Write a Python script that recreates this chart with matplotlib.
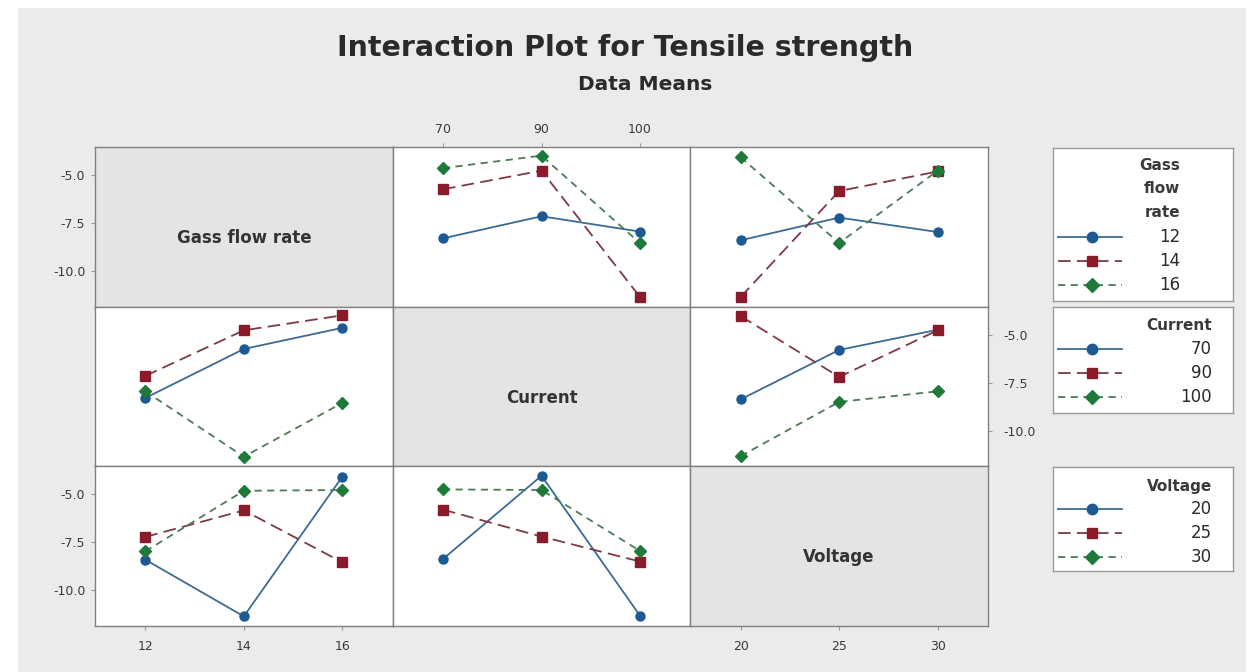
import matplotlib
matplotlib.use("Agg")
import matplotlib.pyplot as plt
from matplotlib.patches import Rectangle
import numpy as np

plt.rcParams['font.family'] = ['DejaVu Sans']

# ---------------- data ----------------
factor_names = ["Gass flow rate", "Current", "Voltage"]
legend_titles = ["Gass\nflow\nrate", "Current", "Voltage"]
gas_levels = ["12", "14", "16"]
current_levels = ["70", "90", "100"]
voltage_levels = ["20", "25", "30"]

# rows: gas flow rate level, cols: current level
gas_by_current = [[-8.30, -7.15, -7.95],
                  [-5.75, -4.78, -11.35],
                  [-4.65, -4.00, -8.55]]
# rows: gas flow rate level, cols: voltage level
gas_by_voltage = [[-8.40, -7.22, -7.97],
                  [-11.35, -5.84, -4.82],
                  [-4.08, -8.54, -4.78]]
# rows: current level, cols: voltage level
current_by_voltage = [[-8.37, -5.80, -4.75],
                      [-4.04, -7.20, -4.78],
                      [-11.32, -8.50, -7.95]]

y_ticks = [-5.0, -7.5, -10.0]
y_ticklabels = ["-5.0", "-7.5", "-10.0"]

# ---------------- style ----------------
W, H = 1250, 672
BG = "#ebebeb"
DIAG = "#e4e4e4"
SPINE = "#808080"
TXT = "#333333"
marker_colors = ["#1d5a94", "#8b1a2b", "#1f7a3a"]
line_colors = ["#3d6a93", "#7d3a42", "#4d7a58"]
markers = ["o", "s", "D"]
msizes = [6.5, 6.5, 6.0]
dashes = [None, (7, 3.5), (4, 3)]

levels = [gas_levels, current_levels, voltage_levels]
M = {(0, 1): np.array(gas_by_current),
     (0, 2): np.array(gas_by_voltage),
     (1, 2): np.array(current_by_voltage)}


def cell_data(r, c):
    if (r, c) in M:
        return M[(r, c)]
    return M[(c, r)].T


fig = plt.figure(figsize=(W / 100, H / 100), dpi=100)
fig.patch.set_facecolor("white")
fig.patches.append(Rectangle((18 / W, 0), (1246 - 18) / W, (H - 8) / H,
                             transform=fig.transFigure, facecolor=BG,
                             edgecolor="none", zorder=-10))


def px_axes(x0, y0, x1, y1, **kw):
    return fig.add_axes([x0 / W, 1 - y1 / H, (x1 - x0) / W, (y1 - y0) / H], **kw)


left, right, top, bottom = 95, 988, 147, 626
cw = (right - left) / 3
ch = (bottom - top) / 3
YLIM = (-11.85, -3.55)
XLIM = (-0.51, 2.51)

for r in range(3):
    for c in range(3):
        ax = px_axes(left + c * cw, top + r * ch, left + (c + 1) * cw, top + (r + 1) * ch)
        ax.set_xlim(*XLIM)
        ax.set_ylim(*YLIM)
        for s in ax.spines.values():
            s.set_color(SPINE)
            s.set_linewidth(1.0)
        ax.tick_params(length=3, width=0.8, color="#999999", labelsize=9,
                       labelcolor="#3a3a3a", direction="out", pad=4)
        ax.set_xticks([])
        ax.set_yticks([])
        if r == c:
            ax.set_facecolor(DIAG)
            ax.text(0.5, 0.43, factor_names[r], transform=ax.transAxes,
                    ha="center", va="center", fontsize=12, fontweight="bold",
                    color=TXT)
        else:
            ax.set_facecolor("white")
            data = cell_data(r, c)
            xs = np.arange(len(levels[c]))
            for k in range(3):
                ln, = ax.plot(xs, data[k], color=line_colors[k], lw=1.3,
                              marker=markers[k], markersize=msizes[k],
                              markerfacecolor=marker_colors[k],
                              markeredgecolor=marker_colors[k])
                if dashes[k] is not None:
                    ln.set_dashes(dashes[k])
        # y ticks
        if c == 0 and r in (0, 2):
            ax.set_yticks(y_ticks)
            ax.set_yticklabels(y_ticklabels)
        if c == 2 and r == 1:
            ax.yaxis.tick_right()
            ax.set_yticks(y_ticks)
            ax.set_yticklabels(y_ticklabels)
            ax.tick_params(axis="y", pad=8)
        # x ticks
        if r == 0 and c == 1:
            ax.xaxis.tick_top()
            ax.set_xticks(np.arange(3))
            ax.set_xticklabels(levels[c])
            ax.tick_params(axis="x", pad=5)
        if r == 2 and c in (0, 2):
            ax.set_xticks(np.arange(3))
            ax.set_xticklabels(levels[c])
            ax.tick_params(axis="x", pad=7)

# ---------------- legends ----------------
boxes = [(1053, 148, 1233, 301, 1180, [165, 188, 212], [237, 261, 285]),
         (1053, 307, 1233, 413, 1212, [326], [349, 373, 397]),
         (1053, 467, 1233, 571, 1212, [487], [509, 533, 557])]
for i, (x0, y0, x1, y1, xr, ty, ey) in enumerate(boxes):
    lax = px_axes(x0, y0, x1, y1)
    lax.set_facecolor("white")
    lax.set_xlim(x0, x1)
    lax.set_ylim(y1, y0)
    lax.set_xticks([])
    lax.set_yticks([])
    for s in lax.spines.values():
        s.set_color("#9a9a9a")
        s.set_linewidth(1.0)
    for line, yy in zip(legend_titles[i].split("\n"), ty):
        lax.text(xr, yy, line, ha="right", va="center", fontsize=11,
                 fontweight="bold", color="#3a3a3a")
    for k, (lab, yy) in enumerate(zip(levels[i], ey)):
        ln, = lax.plot([1058, 1122], [yy, yy], color=line_colors[k], lw=1.3)
        if dashes[k] is not None:
            ln.set_dashes(dashes[k])
        lax.plot([1092], [yy], marker=markers[k], markersize=msizes[k] + 1,
                 color=marker_colors[k], lw=0)
        lax.text(xr, yy, lab, ha="right", va="center", fontsize=12,
                 color="#2a2a2a")

fig.text(625 / W, 1 - 48 / H, "Interaction Plot for Tensile strength",
         ha="center", va="center", fontsize=20.5, fontweight="bold", color="#2a2a2a")
fig.text(645 / W, 1 - 85 / H, "Data Means", ha="center", va="center",
         fontsize=14.5, fontweight="bold", color="#2a2a2a")

fig.savefig("out.png", dpi=100, facecolor=fig.get_facecolor())
